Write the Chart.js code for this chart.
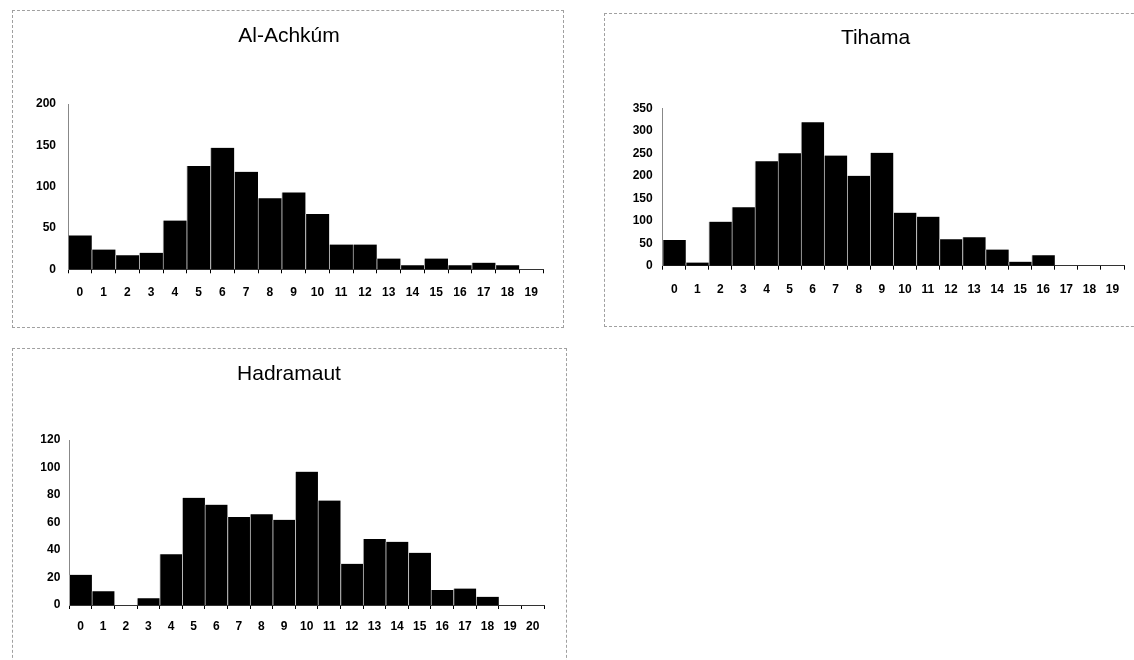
<!DOCTYPE html>
<html>
<head>
<meta charset="utf-8">
<script src="https://cdn.jsdelivr.net/npm/chart.js@4.4.0/dist/chart.umd.min.js"></script>
<style>
  html, body { margin: 0; padding: 0; background: #fff; overflow: hidden; }
  body { width: 1134px; height: 660px; position: relative; }
  .frame { position: absolute; border: 1px dashed #a0a0a0; box-sizing: border-box; }
  .wrap { position: absolute; }
</style>
</head>
<body>
<div class="frame" style="left:12px;top:10px;width:552px;height:318px"></div>
<div class="frame" style="left:604px;top:13px;width:560px;height:314px"></div>
<div class="frame" style="left:12px;top:348px;width:555px;height:330px"></div>

<div class="wrap" style="left:12px;top:10px;width:554px;height:317px"><canvas id="achkum"></canvas></div>
<div class="wrap" style="left:604px;top:13px;width:543px;height:314px"><canvas id="tihama"></canvas></div>
<div class="wrap" style="left:12px;top:348px;width:554px;height:312px"><canvas id="hadramaut"></canvas></div>

<script>
// categories
const achkumLabels = ['0','1','2','3','4','5','6','7','8','9','10','11','12','13','14','15','16','17','18','19'];
const tihamaLabels = ['0','1','2','3','4','5','6','7','8','9','10','11','12','13','14','15','16','17','18','19'];
const hadramautLabels = ['0','1','2','3','4','5','6','7','8','9','10','11','12','13','14','15','16','17','18','19','20'];

// values
const achkumValues = [41, 24, 17, 20, 59, 125, 147, 118, 86, 93, 67, 30, 30, 13, 5, 13, 5, 8, 5, 0];
const tihamaValues = [57, 7, 98, 130, 232, 250, 319, 245, 200, 251, 118, 109, 59, 63, 36, 9, 23, 0, 0, 0];
const hadramautValues = [22, 10, 0, 5, 37, 78, 73, 64, 66, 62, 97, 76, 30, 48, 46, 38, 11, 12, 6, 0, 0];

// y axis ranges
const achkumAxis = { max: 200, step: 50 };
const tihamaAxis = { max: 350, step: 50 };
const hadramautAxis = { max: 120, step: 20 };

const FONT = "'Liberation Sans', Arial, sans-serif";

function makeChart(id, title, labels, values, axis, g) {
  const ctx = document.getElementById(id).getContext('2d');
  return new Chart(ctx, {
    type: 'bar',
    data: {
      labels: labels,
      datasets: [{
        data: values,
        backgroundColor: '#000',
        borderColor: '#b8b8b8',
        borderWidth: { top: 0, right: 0, bottom: 0, left: 1 },
        barPercentage: 1,
        categoryPercentage: 1
      }]
    },
    options: {
      responsive: true,
      maintainAspectRatio: false,
      animation: false,
      layout: { padding: { left: g.side, right: g.side, top: 0, bottom: 0 } },
      plugins: {
        legend: { display: false },
        tooltip: { enabled: false },
        title: {
          display: true,
          text: title,
          color: '#000',
          font: { family: FONT, size: 21, weight: 'normal' },
          padding: { top: g.titleTop, bottom: g.titleBottom }
        }
      },
      scales: {
        x: {
          grid: { display: true, drawOnChartArea: false, drawTicks: true, tickLength: 4, color: '#000', offset: true },
          border: { display: true, color: '#333', width: 1 },
          ticks: { color: '#000', font: { family: FONT, size: 12, weight: 'bold' }, padding: g.xPad, maxRotation: 0, autoSkip: false },
          afterFit: (s) => { s.height = g.xHeight; }
        },
        y: {
          min: 0,
          max: axis.max,
          grid: { display: false, drawTicks: false },
          border: { display: true, color: '#888', width: 1 },
          ticks: { stepSize: axis.step, color: '#000', font: { family: FONT, size: 12, weight: 'bold' }, padding: g.yPad },
          afterFit: (s) => { s.width = g.yWidth; }
        }
      }
    }
  });
}

makeChart('achkum', 'Al-Achkúm', achkumLabels, achkumValues, achkumAxis,
  { side: 23, yWidth: 33, titleTop: 13.4, titleBottom: 55.4, xHeight: 57.7, xPad: 12, yPad: 12 });
makeChart('tihama', 'Tihama', tihamaLabels, tihamaValues, tihamaAxis,
  { side: 23, yWidth: 35.7, titleTop: 12.9, titleBottom: 57.2, xHeight: 61.3, xPad: 12.4, yPad: 10 });
makeChart('hadramaut', 'Hadramaut', hadramautLabels, hadramautValues, hadramautAxis,
  { side: 22, yWidth: 35.3, titleTop: 13.9, titleBottom: 52.9, xHeight: 55, xPad: 10.5, yPad: 9 });
</script>
</body>
</html>
